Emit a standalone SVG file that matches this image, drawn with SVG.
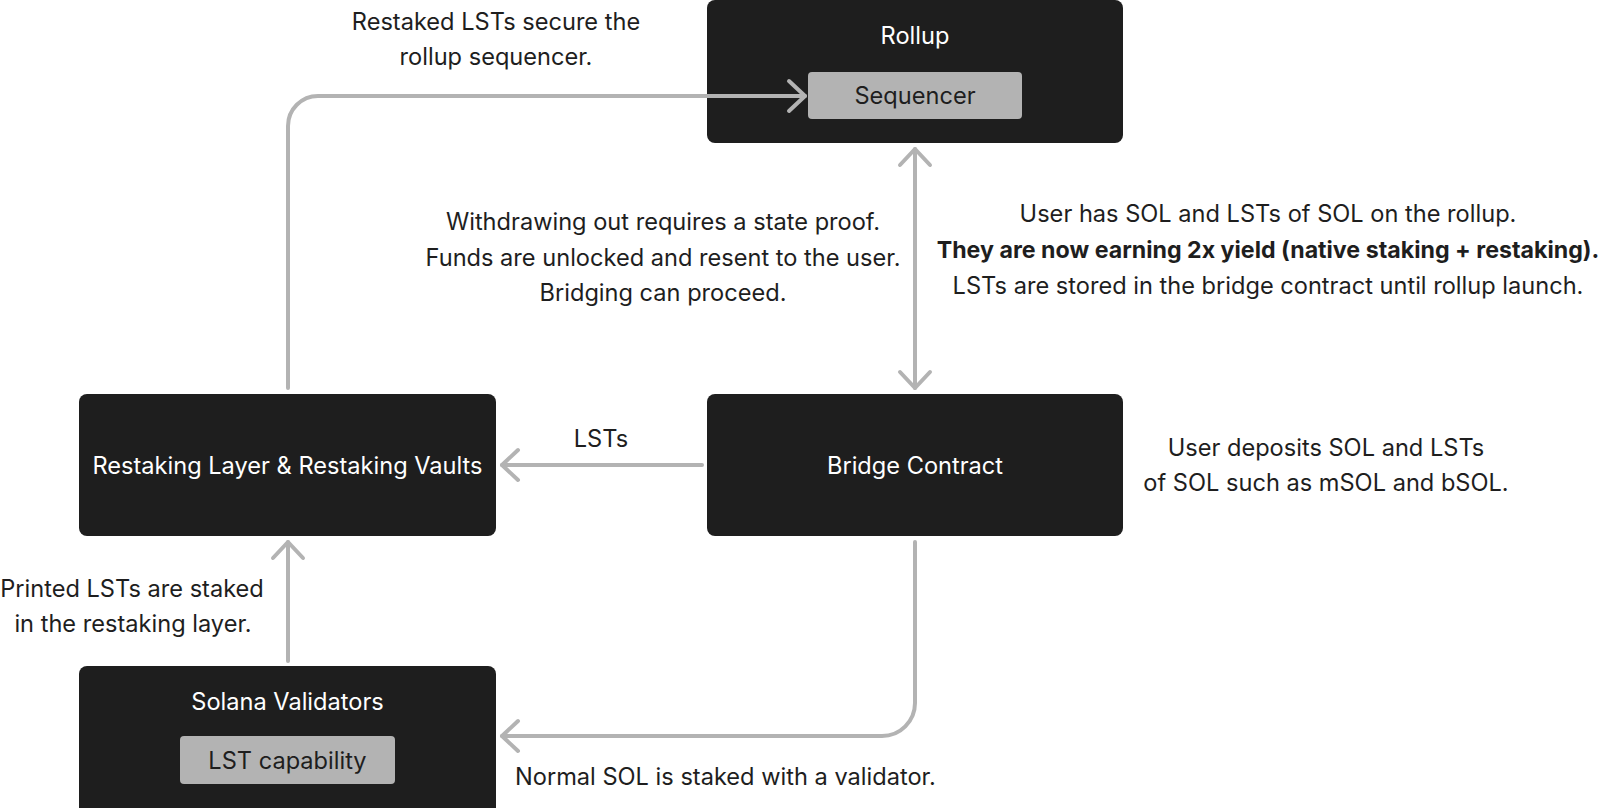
<svg xmlns="http://www.w3.org/2000/svg" width="1600" height="808" viewBox="0 0 1600 808">
<defs>
<style>
.box{fill:#1e1e1e}
.inner{fill:#b3b3b3}
.t{font-family:Inter,"Liberation Sans",sans-serif;font-size:23.6px;fill:#1e1e1e;text-anchor:middle}
.w{fill:#ffffff}
.b{font-weight:700;font-size:23.2px}
.c{fill:none;stroke:#b3b3b3;stroke-width:4;stroke-linecap:round;stroke-linejoin:round}
</style>
<marker id="ah" markerUnits="userSpaceOnUse" markerWidth="40" markerHeight="40" refX="0" refY="0" viewBox="-20 -20 40 40" orient="auto-start-reverse" overflow="visible">
<path d="M-16 -15 L0 0 L-16 15" fill="none" stroke="#b3b3b3" stroke-width="4" stroke-linecap="round" stroke-linejoin="round"/>
</marker>
</defs>
<rect width="1600" height="808" fill="#ffffff"/>

<g id="rollup">
<rect class="box" x="707" y="0" width="416" height="143" rx="8"/>
<text class="t w" x="915" y="44">Rollup</text>
<g id="sequencer">
<rect class="inner" x="808" y="72" width="214" height="47" rx="4"/>
<text class="t" x="915" y="104">Sequencer</text>
</g>
</g>

<g id="restaking">
<rect class="box" x="79" y="394" width="417" height="142" rx="8"/>
<text class="t w" x="287.5" y="474">Restaking Layer &amp; Restaking Vaults</text>
</g>

<g id="bridge">
<rect class="box" x="707" y="394" width="416" height="142" rx="8"/>
<text class="t w" x="915" y="474">Bridge Contract</text>
</g>

<g id="validators">
<rect class="box" x="79" y="666" width="417" height="150" rx="8"/>
<text class="t w" x="287.5" y="710">Solana Validators</text>
<g id="lst-capability">
<rect class="inner" x="180" y="736" width="215" height="48" rx="4"/>
<text class="t" x="287.5" y="769">LST capability</text>
</g>
</g>

<g id="connectors">
<path class="c" d="M288 388 L288 126 A30 30 0 0 1 318 96 L805 96" marker-end="url(#ah)"/>
<path class="c" d="M915 149 L915 388" marker-start="url(#ah)" marker-end="url(#ah)"/>
<path class="c" d="M702 465 L502 465" marker-end="url(#ah)"/>
<path class="c" d="M288 661 L288 542" marker-end="url(#ah)"/>
<path class="c" d="M915 542 L915 703 A33 33 0 0 1 882 736 L502 736" marker-end="url(#ah)"/>
</g>

<g id="labels">
<text class="t" x="496" y="30">Restaked LSTs secure the</text>
<text class="t" x="496" y="65">rollup sequencer.</text>
<text class="t" x="663" y="230">Withdrawing out requires a state proof.</text>
<text class="t" x="663" y="266">Funds are unlocked and resent to the user.</text>
<text class="t" x="663" y="301">Bridging can proceed.</text>
<text class="t" x="1268" y="222">User has SOL and LSTs of SOL on the rollup.</text>
<text class="t b" x="1268" y="258">They are now earning 2x yield (native staking + restaking).</text>
<text class="t" x="1268" y="294">LSTs are stored in the bridge contract until rollup launch.</text>
<text class="t" x="601" y="447">LSTs</text>
<text class="t" x="1326" y="456">User deposits SOL and LSTs</text>
<text class="t" x="1326" y="491">of SOL such as mSOL and bSOL.</text>
<text class="t" x="132" y="597">Printed LSTs are staked</text>
<text class="t" x="133" y="632">in the restaking layer.</text>
<text class="t" x="515" y="785" style="text-anchor:start">Normal SOL is staked with a validator.</text>
</g>
</svg>
